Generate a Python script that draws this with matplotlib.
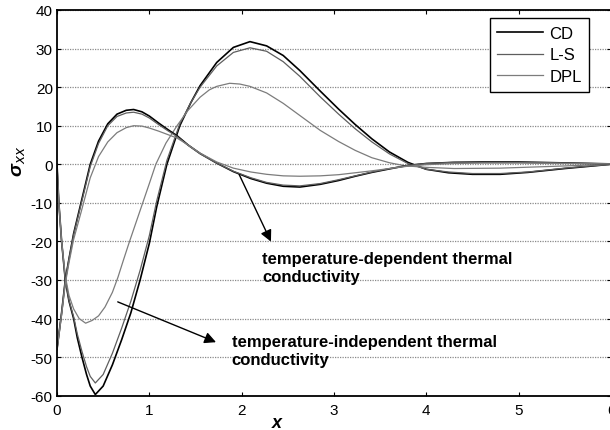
import matplotlib
matplotlib.use("Agg")
import matplotlib.pyplot as plt

plt.rcParams['font.family'] = ['Liberation Sans', 'DejaVu Sans']

# ---------------- data ----------------
# temperature-independent thermal conductivity
x_ti_cd = [0, 0.02, 0.05, 0.09, 0.13, 0.18, 0.22, 0.27, 0.32, 0.36, 0.415, 0.5, 0.6, 0.7, 0.8, 0.9,
           1.0, 1.08, 1.19, 1.33, 1.45, 1.55, 1.73, 1.91, 2.09, 2.27, 2.45, 2.63, 2.85, 3.05,
           3.23, 3.41, 3.6, 3.8, 4.0, 4.24, 4.5, 4.8, 5.1, 5.5, 6.0]
y_ti_cd = [0, -10, -20, -30, -35.5, -40, -45, -50, -54.5, -57.5, -59.7, -57.5, -52, -45.5, -38.5, -30,
           -20.5, -11, 0, 10, 16, 20.4, 26.4, 30.3, 31.8, 30.7, 28.2, 24.3, 19, 14.3,
           10.3, 6.6, 3.2, 0.5, -1.3, -2.2, -2.6, -2.6, -2.1, -1.1, 0]
y_ti_ls = [0, -10, -20, -30, -35.3, -39.5, -44, -48.5, -52.5, -55, -56.7, -54.5, -49, -42.5, -35.5, -27.5,
           -18.5, -9.5, 1, 10.5, 16, 20, 25.5, 29, 30.2, 29.3, 26.6, 22.8, 17.5, 13,
           9.2, 5.8, 2.7, 0.2, -1.3, -2, -2.4, -2.4, -2, -1, 0]
x_ti_dpl = [0, 0.02, 0.05, 0.09, 0.13, 0.18, 0.24, 0.31, 0.38, 0.45, 0.52, 0.6, 0.66, 0.72, 0.78,
            0.85, 0.92, 1.0, 1.07, 1.18, 1.3, 1.42, 1.55, 1.65, 1.73, 1.87, 1.98, 2.09, 2.27,
            2.45, 2.65, 2.85, 3.05, 3.23, 3.41, 3.6, 3.77, 4.0, 4.3, 4.8, 5.3, 6.0]
y_ti_dpl = [0, -10, -20, -29, -34, -37.5, -40, -41.2, -40.5, -39.3, -37, -33.2, -29.3, -24.8, -20.4,
            -15.5, -10.6, -5, 0, 5.5, 10, 14, 17.4, 19.3, 20.2, 21, 20.8, 20.2, 18.5,
            15.8, 12.3, 8.8, 5.9, 3.6, 1.7, 0.4, -0.4, -0.8, -1.1, -1, -0.6, 0]

# temperature-dependent thermal conductivity
x_td = [0, 0.05, 0.09, 0.13, 0.18, 0.26, 0.36, 0.45, 0.55, 0.65, 0.75, 0.83, 0.92, 1.0, 1.1, 1.2,
        1.3, 1.42, 1.55, 1.73, 1.91, 2.1, 2.27, 2.45, 2.63, 2.85, 3.05, 3.23, 3.41, 3.6, 3.8,
        4.0, 4.3, 4.6, 5.0, 5.4, 6.0]
y_td_cd = [-48, -38.5, -30, -24.5, -18, -10, 0, 6, 10.5, 13, 14, 14.2, 13.6, 12.5, 10.7, 9,
           7.4, 5, 2.8, 0.3, -1.9, -3.7, -4.9, -5.7, -5.9, -5.2, -4.2, -3.1, -2.1, -1.2, -0.3,
           0.2, 0.5, 0.6, 0.6, 0.4, 0.1]
y_td_ls = [-48, -38.5, -30, -24.5, -18.3, -10.5, -0.6, 5.4, 10, 12.4, 13.3, 13.5, 13, 12, 10.3, 8.7,
           7.2, 4.9, 2.7, 0.3, -1.8, -3.5, -4.7, -5.4, -5.6, -5.0, -4.0, -3.0, -2.0, -1.1, -0.3,
           0.2, 0.5, 0.5, 0.5, 0.4, 0.1]
y_td_dpl = [-48, -39, -31, -25.5, -19.5, -12.5, -3.5, 2, 5.8, 8.2, 9.5, 10, 9.9, 9.4, 8.6, 7.7,
            6.8, 5, 2.9, 0.6, -1.0, -2.0, -2.6, -3.0, -3.1, -3.0, -2.7, -2.2, -1.7, -1.1, -0.5,
            -0.1, 0.2, 0.3, 0.3, 0.2, 0.1]

series_labels = ['CD', 'L-S', 'DPL']
x_ticks = [0, 1, 2, 3, 4, 5, 6]
y_ticks = [-60, -50, -40, -30, -20, -10, 0, 10, 20, 30, 40]

# ---------------- figure ----------------
fig = plt.figure(figsize=(6.1, 4.31), dpi=100)
ax = fig.add_axes([57/610, (431-396.7)/431, 554/610, 385.7/431])

styles = {
    'CD': dict(color='black', lw=1.2),
    'L-S': dict(color='#5e5e5e', lw=0.9),
    'DPL': dict(color='#7c7c7c', lw=0.9),
}

ax.plot(x_ti_cd, y_ti_cd, label=series_labels[0], **styles['CD'])
ax.plot(x_ti_cd, y_ti_ls, label=series_labels[1], **styles['L-S'])
ax.plot(x_ti_dpl, y_ti_dpl, label=series_labels[2], **styles['DPL'])
ax.plot(x_td, y_td_cd, **styles['CD'])
ax.plot(x_td, y_td_ls, **styles['L-S'])
ax.plot(x_td, y_td_dpl, **styles['DPL'])

ax.set_xlim(0, 6)
ax.set_ylim(-60, 40)
ax.set_xticks(x_ticks)
ax.set_yticks(y_ticks)
ax.set_xticklabels([str(v) for v in x_ticks])
ax.set_yticklabels([str(v) for v in y_ticks])

ax.yaxis.grid(True, color='#8a8a8a', linestyle=(0, (1, 1)), lw=0.9)
ax.xaxis.grid(False)
ax.set_axisbelow(True)

ax.tick_params(direction='in', length=3, width=0.8, top=True, right=True, labelsize=11)
ax.tick_params(axis='x', pad=5)
ax.tick_params(axis='y', pad=3)
for s in ['left', 'bottom', 'top']:
    ax.spines[s].set_linewidth(1.3)
ax.spines['right'].set_linewidth(1.0)

ax.set_xlabel('x', fontsize=13, fontweight='bold', fontstyle='italic')
ax.xaxis.set_label_coords((277-57)/554, -0.047)
ax.set_ylabel('σ$_{xx}$', fontsize=14, fontweight='bold', fontstyle='italic')
ax.yaxis.set_label_coords(-0.052, 0.61)

leg = ax.legend(loc='upper right', bbox_to_anchor=(0.961, 0.9785), fontsize=12,
                frameon=True, fancybox=False, edgecolor='black', framealpha=1,
                handlelength=2.75, handletextpad=0.4, labelspacing=0.4, borderpad=0.45,
                borderaxespad=0)
leg.get_frame().set_linewidth(1.0)

ax.annotate('', xy=(2.33, -20.7), xytext=(1.96, -2.0),
            arrowprops=dict(arrowstyle='-|>', color='black', lw=1.0, mutation_scale=17))
ax.annotate('', xy=(1.75, -46.4), xytext=(0.63, -35.4),
            arrowprops=dict(arrowstyle='-|>', color='black', lw=1.0, mutation_scale=17))
ax.text(2.22, -22.6, 'temperature-dependent thermal\nconductivity', fontsize=12,
        fontweight='bold', va='top', ha='left', linespacing=1.25)
ax.text(1.89, -43.9, 'temperature-independent thermal\nconductivity', fontsize=12,
        fontweight='bold', va='top', ha='left', linespacing=1.25)

fig.savefig('out.png', dpi=100)
